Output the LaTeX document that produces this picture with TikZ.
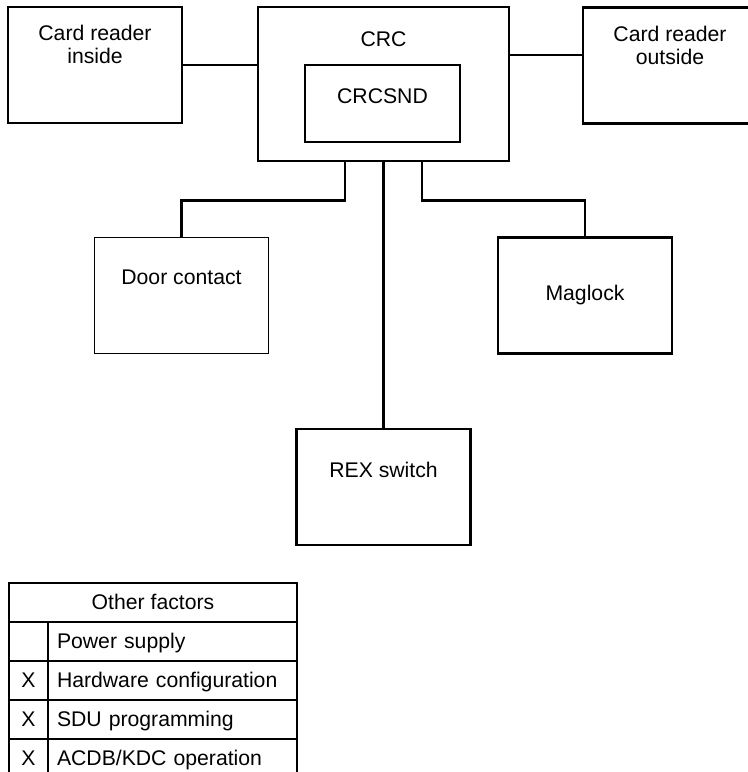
\documentclass[tikz,border=0pt]{standalone}
\usepackage{fontspec}
\setmainfont{Liberation Sans}
\usepackage{tikz}
\tikzset{
	every node/.style={font=\fontsize{10.6pt}{11.5pt}\selectfont},
	unit/.style={draw, rectangle, line width=1.25pt, minimum width=87pt, minimum height=58pt, inner sep=0pt},
	caption/.style={anchor=north, align=center, inner sep=0pt},
	wire/.style={line width=1.25pt},
	cell/.style={draw, rectangle, line width=1pt, minimum height=19.5pt, inner xsep=4.5pt, inner ysep=0pt, text height=7.6pt, text depth=0pt},
}

\begin{document}
\begin{tikzpicture}[x=0.5pt, y=-0.5pt]
	\useasboundingbox (0,0) rectangle (748,772);
	
	\node[unit, label={[caption, yshift=-9.5pt]north:{Card reader\\inside}}]
		(inside) at (95,65) {};
	\node[unit, minimum width=125.5pt, minimum height=77pt, label={[caption, yshift=-13pt]north:CRC}]
		(crc) at (383.5,84) {};
	\node[unit, minimum width=77.5pt, minimum height=38.5pt, label={[caption, yshift=-12.5pt]north:CRCSND}]
		(crcsnd) at (382.5,103.5) {};
	\node[unit, label={[caption, yshift=-9.5pt]north:{Card reader\\outside}}]
		(outside) at (670,65.5) {};
	\node[unit, line width=0.6pt, label={[caption, yshift=-16.5pt]north:Door contact}]
		(door) at (181.5,295.5) {};
	\node[unit, label={[caption, yshift=-24pt]north:Maglock}]
		(maglock) at (585,295.5) {};
	\node[unit, label={[caption, yshift=-17pt]north:REX switch}]
		(rex) at (383.5,487) {};
	
	\draw[wire]
		(inside.east) -- (inside.east -| crc.west);
	\coordinate (tap) at ([yshift=14.5pt]crc.east);
	\draw[wire]
		(tap) -- (tap -| outside.west);
	\draw[wire]
		([xshift=-19.25pt]crc.south) -- ++(0,38) -| (door.north);
	\draw[wire]
		([xshift=19.25pt]crc.south) -- ++(0,38) -| (maglock.north);
	\draw[wire]
		(crc.south) -- (rex.north);
	
	\node[cell, minimum width=144pt, inner xsep=0pt]
		(factors) at (153,602) {Other factors};
	\foreach \mk/\txt [count=\i] in {{}/Power supply, X/Hardware configuration, X/SDU programming, X/{ACDB/KDC operation}}{
		\node[cell, minimum width=19.5pt, inner xsep=0pt]
			(mark\i) at (28.5,{602+39*\i}) {\mk};
		\node[cell, text width=115.5pt, align=left]
			(factor\i) at (172.5,{602+39*\i}) {\txt};
	}
\end{tikzpicture}
\end{document}
